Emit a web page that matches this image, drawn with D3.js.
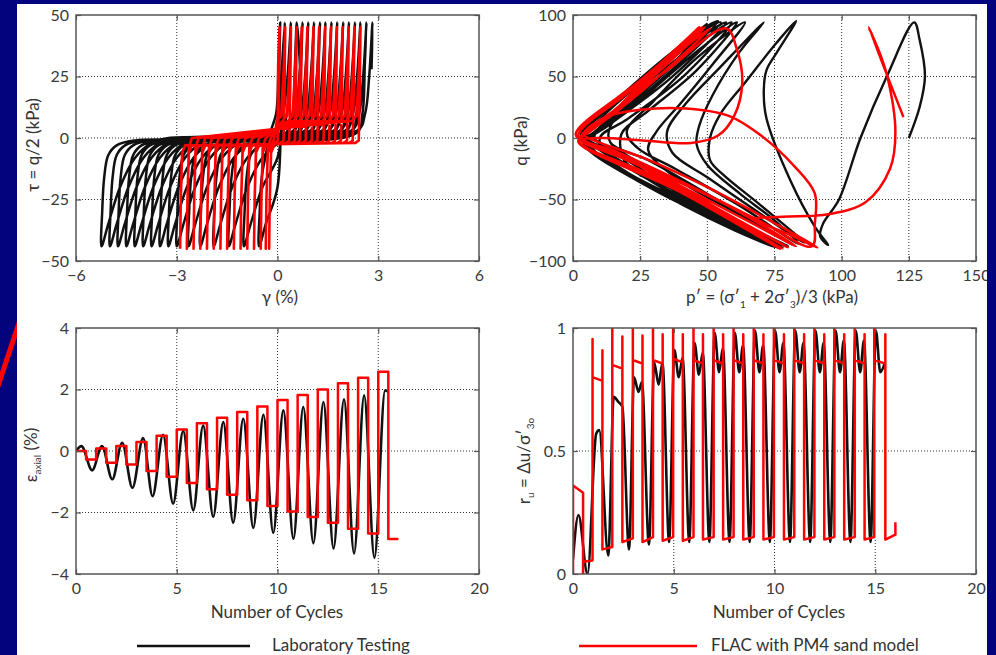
<!DOCTYPE html>
<html>
<head>
<meta charset="utf-8">
<script src="https://cdn.jsdelivr.net/npm/d3@7"></script>
<style>
  body { margin: 0; background: #03037d; }
  svg { display: block; }
</style>
</head>
<body>
<script>
// ---------- data ----------

// top left: tau vs gamma hysteresis. turning points of each loop (gamma, %)
const labTopGamma = [0.08, 0.22, 0.40, 0.57, 0.75, 0.92, 1.09, 1.27, 1.43, 1.61, 1.78, 1.96, 2.13, 2.31, 2.47, 2.65, 2.83];
const labBottomGamma = [-0.55, -1.0, -1.45, -1.9, -2.3, -2.65, -3.0, -3.25, -3.5, -3.75, -4.0, -4.25, -4.5, -4.75, -4.99, -5.24];
const labEnd = [2.80, 28];
// loop shape near the turning points: [gamma offset, tau]
const labRiseFromBottom = [[0, -44], [0.2, -35], [0.55, -20], [1.0, -8], [1.5, -2], [2.0, 0]];
const labRiseToTop = [[-0.45, 3], [-0.22, 10], [-0.1, 25], [0, 47]];
const labFallFromTop = [[0, 47], [-0.05, 30], [-0.12, 10], [-0.3, 2]];
const labFallToBottom = [[1.0, -1], [0.45, -3], [0.2, -7], [0.08, -16], [0.02, -30], [0, -44]];

const flacTopGamma = [0.06, 0.23, 0.40, 0.57, 0.72, 0.89, 1.07, 1.24, 1.42, 1.59, 1.77, 1.94, 2.12, 2.29, 2.47];
const flacBottomGamma = [-0.25, -0.35, -0.5, -0.7, -0.9, -1.1, -1.3, -1.5, -1.7, -1.9, -2.1, -2.3, -2.5, -2.7, -2.9];
const flacRiseFromBottom = [[0, -45], [0.02, -25], [0.06, -4], [0.15, 0]];
const flacRiseToTop = [[-0.25, 7], [-0.12, 9], [-0.04, 30], [0, 45]];
const flacFallFromTop = [[0, 45], [-0.02, 20], [-0.05, -1], [-0.15, -2]];
const flacFallToBottom = [[0.15, -3], [0.06, -6], [0.02, -25], [0, -45]];

// top right: stress paths [p', q]
const labStressPath = [
  [125, 0], [129, 25], [131, 50], [129, 80], [127, 94],
  [117, 51], [107, 0], [99, -50], [93, -70], [92, -80], [95, -87],
  [90, -72], [81, -35], [72, 16], [71, 38], [72, 55], [76, 70], [83, 95],
  [76, 78], [64, 45], [55, 20], [51, 0], [51, -18], [56, -30], [70, -55], [86, -85],
  [70, -62], [50, -32], [37, -12], [35, 5], [42, 28], [55, 58], [71, 94],
  [62, 70], [52, 35], [47, 10], [46, -5], [50, -22], [62, -45], [75, -67], [84, -86],
  [62, -55], [38, -25], [24, -8], [20, 5], [30, 30], [46, 65], [64, 94],
  [52, 60], [40, 28], [31, 5], [28, -10], [40, -35], [60, -60], [82, -87],
  [55, -52], [28, -18], [14, -4], [14, 10], [30, 40], [47, 72], [61, 94],
  [46, 55], [28, 22], [18, 3], [19, -18], [22, -24], [40, -45], [80, -88],
  [50, -56], [20, -14], [8, 0], [12, 14], [35, 58], [59, 94],
  [42, 52], [20, 15], [10, 0], [14, -18], [45, -55], [79, -88],
  [45, -52], [14, -10], [5, 0], [10, 15], [40, 70], [57, 94],
  [36, 48], [13, 10], [6, -2], [12, -18], [50, -62], [78, -89],
  [40, -48], [9, -6], [4, 2], [10, 18], [42, 78], [55, 94],
  [30, 42], [10, 6], [5, -3], [20, -28], [55, -68], [77, -89],
  [35, -43], [7, -4], [3, 2], [12, 22], [44, 82], [54, 95],
  [26, 37], [8, 5], [4, -3], [25, -35], [60, -75], [76, -89],
  [30, -36], [6, -3], [3, 3], [14, 26], [52, 94],
  [28, 42], [8, 4], [4, -4], [30, -42], [76, -88],
  [25, -30], [5, -2], [3, 3], [20, 38], [50, 93]
];
const flacStressPath = [
  [123, 17], [110, 90], [114, 70], [117, 50], [120, 5], [118, -25], [109, -52], [95, -62], [78, -64], [68, -66], [80, -78], [91, -89],
  [74, -68], [50, -40], [26, -16], [9, -3], [4, 3], [12, 17], [25, 23], [42, 24], [58, 18], [70, 2], [82, -22], [90, -45], [90, -70], [89, -88],
  [70, -68], [40, -35], [15, -10], [3, 0], [15, 22], [35, 55], [57, 89],
  [61, 72], [63, 45], [60, 18], [54, 2], [44, -4], [26, -2], [10, 0], [3, -2],
  [25, -22], [55, -52], [83, -88],
  [62, -64], [30, -28], [8, -6], [2, 2], [20, 36], [51, 89],
  [38, 62], [20, 28], [8, 8], [2, -2], [30, -31], [80, -89],
  [56, -60], [26, -23], [6, -4], [1, 3], [24, 45], [49, 90],
  [34, 58], [15, 22], [4, 3], [2, -3], [35, -38], [78, -90],
  [54, -59], [22, -19], [5, -3], [1, 3], [26, 48], [48, 90],
  [32, 57], [14, 19], [4, 2], [2, -3], [40, -44], [77, -90],
  [52, -58], [20, -17], [4, -2], [1, 3], [28, 52], [47, 90],
  [30, 55], [14, 19], [5, 3]
];

// bottom left: axial strain vs number of cycles
const axLabCycles = [0, 0.27, 0.8, 1.29, 1.8, 2.29, 2.8, 3.33, 3.8, 4.32, 4.82, 5.32, 5.82, 6.31, 6.81, 7.31, 7.8, 8.3, 8.8, 9.3, 9.79, 10.29, 10.79, 11.28, 11.78, 12.28, 12.78, 13.3, 13.8, 14.3, 14.81, 15.34, 15.5];
const axLabStrain = [0, 0.16, -0.63, 0.16, -0.92, 0.27, -1.2, 0.42, -1.47, 0.53, -1.71, 0.65, -1.93, 0.83, -2.14, 0.94, -2.33, 1.05, -2.5, 1.18, -2.66, 1.32, -2.85, 1.43, -3.0, 1.59, -3.17, 1.68, -3.33, 1.81, -3.47, 1.97, 1.92];
const axFlacCycles = [0, 0.5, 1, 1.5, 2, 2.5, 3, 3.5, 4, 4.5, 5, 5.5, 6, 6.5, 7, 7.5, 8, 8.5, 9, 9.5, 10, 10.5, 11, 11.5, 12, 12.5, 13, 13.5, 14, 14.5, 15, 15.5, 16];
const axFlacStrain = [0, -0.28, 0.08, -0.38, 0.16, -0.44, 0.29, -0.65, 0.5, -0.84, 0.7, -1.04, 0.9, -1.24, 1.08, -1.42, 1.27, -1.6, 1.45, -1.79, 1.66, -1.97, 1.82, -2.15, 2.0, -2.33, 2.2, -2.53, 2.38, -2.68, 2.58, -2.86, -2.86];

// bottom right: excess pore pressure ratio
const ruLabCycles = [0, 0.27, 0.72, 1.15, 1.3, 1.75,
  2.02, 2.25, 2.45, 2.78, 3.03, 3.25, 3.42, 3.77, 4.03, 4.25, 4.44, 4.77,
  5.03, 5.25, 5.44, 5.77, 6.03, 6.25, 6.44, 6.77, 7.03, 7.25, 7.44, 7.77,
  8.03, 8.25, 8.44, 8.77, 9.03, 9.25, 9.44, 9.77, 10.03, 10.25, 10.44, 10.77,
  11.03, 11.25, 11.44, 11.77, 12.03, 12.25, 12.44, 12.77, 13.03, 13.25, 13.44, 13.77,
  14.03, 14.25, 14.44, 14.77, 15.03, 15.25, 15.48];
const ruLabValue = [0.06, 0.24, 0.0, 0.57, 0.585, 0.075,
  0.72, 0.70, 0.68, 0.10, 0.80, 0.74, 0.78, 0.12, 0.86, 0.77, 0.86, 0.13,
  0.91, 0.80, 0.88, 0.13, 0.94, 0.81, 0.90, 0.13, 0.98, 0.82, 0.92, 0.13,
  0.98, 0.82, 0.93, 0.13, 0.99, 0.82, 0.93, 0.13, 0.99, 0.82, 0.94, 0.13,
  0.99, 0.82, 0.94, 0.13, 0.99, 0.82, 0.94, 0.13, 0.99, 0.82, 0.95, 0.13,
  0.99, 0.82, 0.95, 0.13, 0.99, 0.82, 0.86];

const ruFlacStart = [[0, 0], [0, 0.36], [0.5, 0.33], [0.5, 0], [0.5, 0.05], [0.97, 0.055]];
const ruFlacUp = [0.97, 1.95, 2.97, 3.97, 4.97, 5.98, 6.98, 7.97, 8.97, 9.97, 10.98, 11.98, 12.97, 13.98, 14.95];
const ruFlacDown = [1.46, 2.45, 3.45, 4.45, 5.45, 6.45, 7.45, 8.45, 9.45, 10.47, 11.47, 12.47, 13.46, 14.47, 15.5];
const ruFlacPeak1 = [0.955, 1, 1, 1, 1, 1, 1, 1, 1, 1, 1, 1, 1, 1, 1];
const ruFlacBarA = [0.80, 0.85, 0.87, 0.87, 0.875, 0.87, 0.87, 0.87, 0.87, 0.87, 0.87, 0.87, 0.87, 0.87, 0.87];
const ruFlacBarB = [0.785, 0.835, 0.855, 0.855, 0.86, 0.855, 0.855, 0.855, 0.855, 0.855, 0.855, 0.855, 0.855, 0.855, 0.855];
const ruFlacPeak2 = [0.91, 0.965, 0.97, 0.975, 0.975, 0.975, 0.975, 0.975, 0.975, 0.975, 0.975, 0.975, 0.975, 0.975, 0.975];
const ruFlacLowA = [0.10, 0.13, 0.13, 0.135, 0.135, 0.14, 0.14, 0.14, 0.14, 0.14, 0.14, 0.14, 0.14, 0.14, 0.14];
const ruFlacLowB = [0.11, 0.145, 0.15, 0.15, 0.15, 0.15, 0.15, 0.15, 0.15, 0.15, 0.15, 0.15, 0.15, 0.15, 0.16];
const ruFlacEnd = [[16.0, 0.16], [16.0, 0.21]];

const legendNames = ["Laboratory Testing", "FLAC with PM4 sand model"];

// ---------- layout ----------
const W = 996, H = 655;
const navy = "#03037d", labColor = "#111", flacColor = "#ff0000";
const font = "Lato, 'Open Sans', sans-serif";

const svg = d3.select("body").append("svg").attr("width", W).attr("height", H);
svg.append("rect").attr("width", W).attr("height", H).attr("fill", navy);

// red slash on the left border
svg.append("line")
    .attr("x1", 26).attr("y1", 302).attr("x2", -6).attr("y2", 398)
    .attr("stroke", flacColor).attr("stroke-width", 5);

svg.append("clipPath").attr("id", "page")
    .append("rect").attr("x", 17).attr("y", 4).attr("width", 970).attr("height", H);
const page = svg.append("g").attr("clip-path", "url(#page)");
page.append("rect").attr("x", 17).attr("y", 4).attr("width", 970).attr("height", H).attr("fill", "#fff");

const fmt = d3.format("~g");

function makePanel(id, box, xDomain, yDomain, xTicks, yTicks, gridX, gridY, gridXSpan) {
    const x = d3.scaleLinear().domain(xDomain).range([box.l, box.r]);
    const y = d3.scaleLinear().domain(yDomain).range([box.b, box.t]);
    const g = page.append("g");

    // dotted grid
    const span = gridXSpan || yDomain;
    g.selectAll(".gx").data(gridX).join("line")
        .attr("x1", d => x(d)).attr("x2", d => x(d))
        .attr("y1", y(span[0])).attr("y2", y(span[1]))
        .attr("stroke", "#333").attr("stroke-width", 1).attr("stroke-dasharray", "1,2");
    g.selectAll(".gy").data(gridY).join("line")
        .attr("x1", box.l).attr("x2", box.r)
        .attr("y1", d => y(d)).attr("y2", d => y(d))
        .attr("stroke", "#333").attr("stroke-width", 1).attr("stroke-dasharray", "1,2");

    svg.append("clipPath").attr("id", id)
        .append("rect").attr("x", box.l).attr("y", box.t)
        .attr("width", box.r - box.l).attr("height", box.b - box.t);
    const plot = g.append("g").attr("clip-path", `url(#${id})`);

    const axes = page.append("g");
    const styleAxis = a => {
        a.select(".domain").remove();
        a.selectAll("line").attr("stroke", "#555").attr("stroke-width", 1.2);
        a.selectAll("text").attr("fill", "#3a3a3a").style("font-family", font).style("font-size", "16px");
    };
    axes.append("g").attr("transform", `translate(0,${box.b})`)
        .call(d3.axisBottom(x).tickValues(xTicks).tickFormat(fmt).tickSizeInner(-5).tickSizeOuter(0).tickPadding(9))
        .call(styleAxis);
    axes.append("g").attr("transform", `translate(${box.l},0)`)
        .call(d3.axisLeft(y).tickValues(yTicks).tickFormat(fmt).tickSizeInner(-5).tickSizeOuter(0).tickPadding(7))
        .call(styleAxis);
    axes.append("g").attr("transform", `translate(0,${box.t})`)
        .call(d3.axisTop(x).tickValues(xTicks).tickFormat("").tickSizeInner(-5).tickSizeOuter(0))
        .call(styleAxis);
    axes.append("g").attr("transform", `translate(${box.r},0)`)
        .call(d3.axisRight(y).tickValues(yTicks).tickFormat("").tickSizeInner(-5).tickSizeOuter(0))
        .call(styleAxis);
    axes.append("rect").attr("x", box.l).attr("y", box.t)
        .attr("width", box.r - box.l).attr("height", box.b - box.t)
        .attr("fill", "none").attr("stroke", "#555").attr("stroke-width", 1.5);

    return { x, y, plot, box };
}

function drawLine(p, pts, color, curve, width) {
    const line = d3.line().x(d => p.x(d[0])).y(d => p.y(d[1])).curve(curve);
    p.plot.append("path").attr("d", line(pts))
        .attr("fill", "none").attr("stroke", color)
        .attr("stroke-width", width).attr("stroke-linejoin", "round");
}

// keep only points that move steadily from start towards the branch end
function branch(start, pts, dir) {
    const end = pts[pts.length - 1];
    const keep = [];
    let last = start[0];
    pts.slice(0, -1).forEach(p => {
        if ((p[0] - last) * dir > 0 && (end[0] - p[0]) * dir > 0) { keep.push(p); last = p[0]; }
    });
    keep.push(end);
    return keep;
}

function loopPoints(tops, bottoms, riseB, riseT, fallT, fallB) {
    const pts = [[0, 0]];
    tops.forEach((t, i) => {
        const b = i > 0 ? bottoms[i - 1] : null;
        const rise = (b === null ? [] : riseB.map(([d, v]) => [b + d, v]))
            .concat(riseT.map(([d, v]) => [t + d, v]));
        pts.push(...branch(pts[pts.length - 1], rise, 1));
        if (i < bottoms.length) {
            const nb = bottoms[i];
            const fall = fallT.map(([d, v]) => [t + d, v]).concat(fallB.map(([d, v]) => [nb + d, v]));
            pts.push(...branch(pts[pts.length - 1], fall.slice(1), -1));
        }
    });
    return pts;
}

function text(parent, x, y, str, size, anchor) {
    return parent.append("text").attr("x", x).attr("y", y)
        .attr("text-anchor", anchor || "middle").attr("fill", "#333")
        .style("font-family", font).style("font-size", size + "px").text(str);
}

function vtext(cx, cy) {
    return page.append("text")
        .attr("transform", `translate(${cx},${cy}) rotate(-90)`)
        .attr("text-anchor", "middle").attr("dy", "0.35em").attr("fill", "#333")
        .style("font-family", font).style("font-size", "17px");
}

// ---------- panel 1 ----------
const p1 = makePanel("c1", { l: 76, r: 479, t: 15, b: 261 }, [-6, 6], [-50, 50],
    [-6, -3, 0, 3, 6], [-50, -25, 0, 25, 50], [-3, 0, 3], [-25, 0, 25]);
const labLoops = loopPoints(labTopGamma, labBottomGamma, labRiseFromBottom, labRiseToTop, labFallFromTop, labFallToBottom);
labLoops.push(labEnd);
drawLine(p1, labLoops, labColor, d3.curveCatmullRom.alpha(0.5), 2.5);
drawLine(p1, loopPoints(flacTopGamma, flacBottomGamma, flacRiseFromBottom, flacRiseToTop, flacFallFromTop, flacFallToBottom),
    flacColor, d3.curveLinear, 2.6);
vtext(33, 145).text("τ = q/2 (kPa)");
text(page, 280, 303, "γ (%)", 17);

// ---------- panel 2 ----------
const p2 = makePanel("c2", { l: 573, r: 976, t: 15, b: 261 }, [0, 150], [-100, 100],
    [0, 25, 50, 75, 100, 125, 150], [-100, -50, 0, 50, 100], [25, 50, 75, 100, 125], [-50, 0, 50]);
drawLine(p2, labStressPath, labColor, d3.curveCatmullRom.alpha(0.5), 2.4);
drawLine(p2, flacStressPath, flacColor, d3.curveCatmullRom.alpha(0.5), 2.5);
vtext(521, 141).text("q (kPa)");
const t2 = text(page, 772, 303, "p′ = (σ′", 17);
t2.append("tspan").attr("dy", 5).style("font-size", "10px").text("1");
t2.append("tspan").attr("dy", -5).text(" + 2σ′");
t2.append("tspan").attr("dy", 5).style("font-size", "10px").text("3");
t2.append("tspan").attr("dy", -5).text(")/3 (kPa)");

// ---------- panel 3 ----------
const p3 = makePanel("c3", { l: 76, r: 479, t: 328, b: 574 }, [0, 20], [-4, 4],
    [0, 5, 10, 15, 20], [-4, -2, 0, 2, 4], [5, 10, 15], [-2, 0, 2]);
drawLine(p3, axLabCycles.map((c, i) => [c, axLabStrain[i]]), labColor, d3.curveMonotoneX, 2.6);
drawLine(p3, axFlacCycles.map((c, i) => [c, axFlacStrain[i]]), flacColor, d3.curveStepAfter, 2.5);
const t3 = vtext(31, 455);
t3.append("tspan").text("ε");
t3.append("tspan").attr("dy", 4).style("font-size", "10px").text("axial");
t3.append("tspan").attr("dy", -4).text(" (%)");
text(page, 277, 618, "Number of Cycles", 17);

// ---------- panel 4 ----------
const p4 = makePanel("c4", { l: 573, r: 976, t: 328, b: 574 }, [0, 20], [0, 1],
    [0, 5, 10, 15, 20], [0, 0.5, 1], [5, 10, 15], [0.5], [0, 0.14]);
drawLine(p4, ruLabCycles.map((c, i) => [c, ruLabValue[i]]), labColor, d3.curveMonotoneX, 2.6);
const ruFlac = ruFlacStart.slice();
ruFlacUp.forEach((u, i) => {
    ruFlac.push([u, i === 0 ? ruFlacStart[ruFlacStart.length - 1][1] : ruFlacLowB[i - 1]],
        [u, ruFlacPeak1[i]], [u, ruFlacBarA[i]],
        [ruFlacDown[i], ruFlacBarB[i]], [ruFlacDown[i], ruFlacPeak2[i]], [ruFlacDown[i], ruFlacLowA[i]]);
});
ruFlac.push(...ruFlacEnd);
drawLine(p4, ruFlac, flacColor, d3.curveLinear, 2.5);
const t4 = vtext(524, 461);
t4.append("tspan").text("r");
t4.append("tspan").attr("dy", 4).style("font-size", "10px").text("u");
t4.append("tspan").attr("dy", -4).text(" = Δu/σ′");
t4.append("tspan").attr("dy", 4).style("font-size", "10px").text("3o");
text(page, 779, 618, "Number of Cycles", 17);

// ---------- legend ----------
const legend = page.append("g");
legend.append("line").attr("x1", 137).attr("x2", 250).attr("y1", 646).attr("y2", 646)
    .attr("stroke", labColor).attr("stroke-width", 2.5);
text(legend, 272, 651, legendNames[0], 17, "start");
legend.append("line").attr("x1", 579).attr("x2", 697).attr("y1", 646).attr("y2", 646)
    .attr("stroke", flacColor).attr("stroke-width", 2.5);
text(legend, 711, 651, legendNames[1], 17, "start");
</script>
</body>
</html>
